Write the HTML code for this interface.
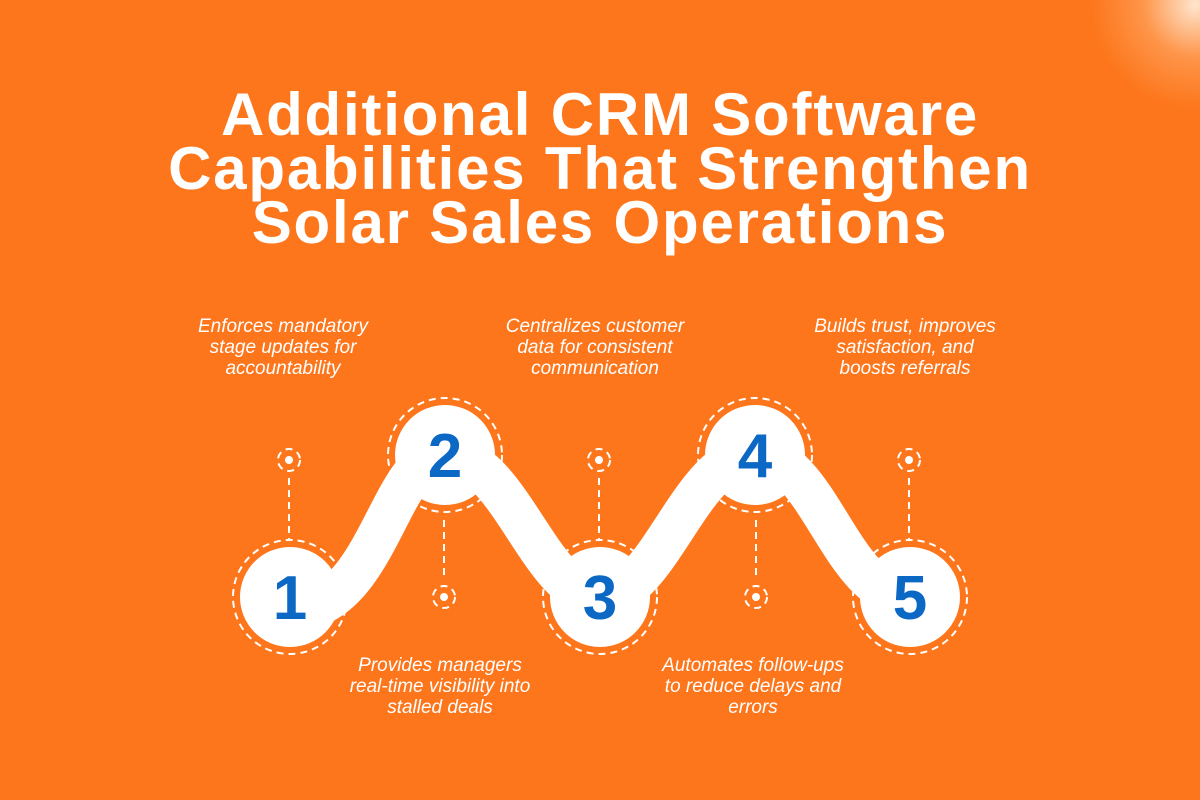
<!DOCTYPE html>
<html><head><style>
body{margin:0;width:1200px;height:800px;overflow:hidden;background:#fd761b;font-family:"Liberation Sans",sans-serif;position:relative}
.glow{position:absolute;right:-100px;top:-100px;width:210px;height:210px;border-radius:50%;background:radial-gradient(circle,rgba(255,235,215,0.95) 0%,rgba(255,180,120,0.5) 35%,rgba(253,118,27,0) 70%)}
h1{position:absolute;top:88px;left:0;width:1200px;margin:0;text-align:center;color:#fff;font-weight:bold;font-size:60px;line-height:54px;letter-spacing:1.8px}
.t{position:absolute;color:#fff;font-style:italic;font-size:19px;line-height:21px;text-align:center;width:220px}
</style></head><body>
<div class="glow"></div>
<h1>Additional CRM Software<br>Capabilities That Strengthen<br>Solar Sales Operations</h1>
<div class="t" style="left:173px;top:316px">Enforces mandatory stage updates for accountability</div>
<div class="t" style="left:485px;top:316px">Centralizes customer data for consistent communication</div>
<div class="t" style="left:812px;top:316px;width:186px">Builds trust, improves satisfaction, and boosts referrals</div>
<div class="t" style="left:340px;top:655px;width:200px">Provides managers real-time visibility into stalled deals</div>
<div class="t" style="left:653px;top:655px;width:200px">Automates follow-ups to reduce delays and errors</div>
<svg width="1200" height="800" style="position:absolute;left:0;top:0">
<path d="M300,610 C380,600 390,455 445,455 C510,455 540,597 600,597 C660,597 690,455 755,455 C820,455 840,597 910,597" fill="none" stroke="#fff" stroke-width="42"/>
<g fill="none" stroke="#fff" stroke-width="2" stroke-dasharray="7 5">
<circle cx="290" cy="597" r="57"/><circle cx="445" cy="455" r="57"/><circle cx="600" cy="597" r="57"/><circle cx="755" cy="455" r="57"/><circle cx="910" cy="597" r="57"/>
<circle cx="289" cy="460" r="11"/><circle cx="599" cy="460" r="11"/><circle cx="909" cy="460" r="11"/><circle cx="444" cy="597" r="11"/><circle cx="756" cy="597" r="11"/>
<path d="M289,478V540M599,478V540M909,478V540M444,520V580M756,520V580"/>
</g>
<g fill="#fff">
<circle cx="290" cy="597" r="50"/><circle cx="445" cy="455" r="50"/><circle cx="600" cy="597" r="50"/><circle cx="755" cy="455" r="50"/><circle cx="910" cy="597" r="50"/>
<circle cx="289" cy="460" r="4"/><circle cx="599" cy="460" r="4"/><circle cx="909" cy="460" r="4"/><circle cx="444" cy="597" r="4"/><circle cx="756" cy="597" r="4"/>
</g>
<g fill="#0b68c4" font-family="Liberation Sans,sans-serif" font-weight="bold" font-size="62" text-anchor="middle">
<text x="290" y="619">1</text><text x="445" y="477">2</text><text x="600" y="619">3</text><text x="755" y="477">4</text><text x="910" y="619">5</text>
</g>
</svg>
</body></html>
